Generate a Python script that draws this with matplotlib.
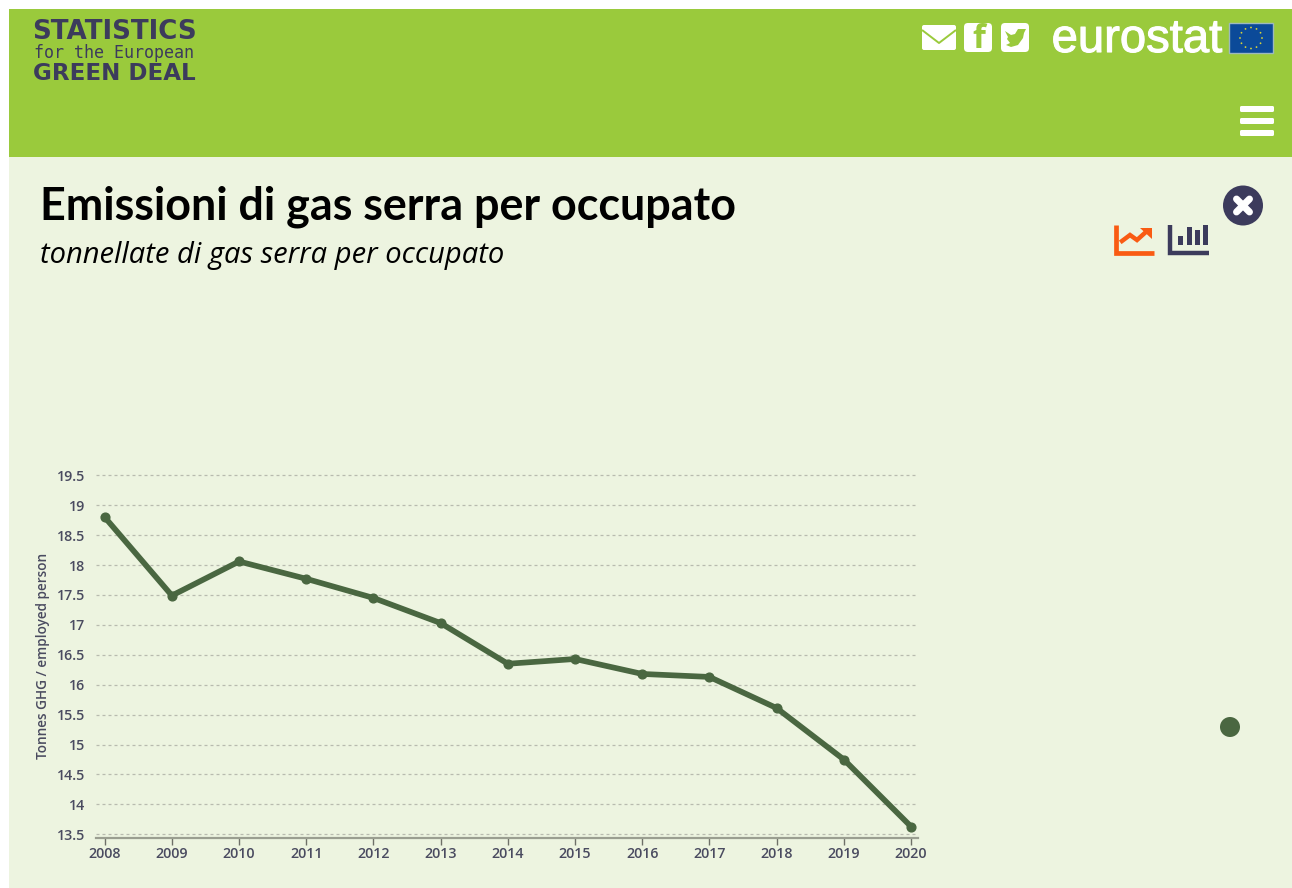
import numpy as np
import matplotlib
matplotlib.use("Agg")
import matplotlib.pyplot as plt
import matplotlib.patheffects as pe
from matplotlib.patches import Rectangle, FancyBboxPatch, Circle, Polygon

years = [2008, 2009, 2010, 2011, 2012, 2013, 2014, 2015, 2016, 2017, 2018, 2019, 2020]
values = [18.80, 17.49, 18.06, 17.77, 17.45, 17.03, 16.35, 16.43, 16.18, 16.13, 15.61, 14.75, 13.63]
y_ticks = [13.5, 14, 14.5, 15, 15.5, 16, 16.5, 17, 17.5, 18, 18.5, 19, 19.5]
y_labels = ["13.5", "14", "14.5", "15", "15.5", "16", "16.5", "17", "17.5", "18", "18.5", "19", "19.5"]
title = "Emissioni di gas serra per occupato"
subtitle = "tonnellate di gas serra per occupato"
y_title = "Tonnes GHG / employed person"

W, H = 1292, 888
GREEN, BG, NAVY, LINE, ORANGE = "#9ACA3C", "#EDF4E0", "#3C3B5C", "#4A6741", "#F95B13"
TICK = "#4A4B60"

fig = plt.figure(figsize=(W / 100, H / 100), dpi=100, facecolor="white")

# page chrome in pixel coordinates (origin top-left)
pg = fig.add_axes([0, 0, 1, 1], zorder=0)
pg.set_xlim(0, W)
pg.set_ylim(H, 0)
pg.axis("off")
pg.add_patch(Rectangle((9, 157), W - 9, H - 157, fc=BG, ec="none"))
pg.add_patch(Rectangle((9, 9), W - 9, 148, fc=GREEN, ec="none"))

# logo text
pg.text(114, 32, "STATISTICS", family="DejaVu Sans", weight="bold", size=18.8, color=NAVY,
        ha="center", va="center")
pg.text(114, 52.5, "for the European", family="DejaVu Sans Mono", size=12, color=NAVY,
        ha="center", va="center")
pg.text(114, 74, "GREEN DEAL", family="DejaVu Sans", weight="bold", size=16.6, color=NAVY,
        ha="center", va="center")

# mail icon
pg.add_patch(FancyBboxPatch((922, 25), 34, 25, boxstyle="round,pad=0,rounding_size=2", fc="white", ec="none"))
pg.plot([922, 939, 956], [30, 43, 30], color=GREEN, lw=1.4, solid_capstyle="butt")
# facebook icon
pg.add_patch(FancyBboxPatch((964, 23), 28, 29, boxstyle="round,pad=0,rounding_size=4", fc="white", ec="none"))
pg.text(979, 39, "f", family="Open Sans", weight="bold", size=24, color=GREEN, ha="center", va="center")
# twitter icon
pg.add_patch(FancyBboxPatch((1001, 23), 28, 29, boxstyle="round,pad=0,rounding_size=4", fc="white", ec="none"))
pg.add_patch(Polygon([(1005, 31), (1011, 35), (1015, 34), (1018, 29), (1022, 29), (1026, 29),
                      (1024, 33), (1023, 38), (1018, 45), (1011, 47), (1006, 45), (1010, 43),
                      (1007, 39), (1008, 37)], closed=True, fc=GREEN, ec="none"))

# eurostat wordmark and flag
pg.text(1137, 40, "eurostat", family="Liberation Sans", size=34, color="white",
        ha="center", va="center", path_effects=[pe.withStroke(linewidth=0.8, foreground="white")])
pg.add_patch(Rectangle((1229, 23), 44, 30, fc="#0B4A99", ec="#9DB9BE", lw=1))
for a in np.arange(0, 360, 30):
    pg.add_patch(Circle((1251 + 11 * np.cos(np.radians(a)), 38 + 10.5 * np.sin(np.radians(a))),
                        0.9, fc="#D8D23A", ec="none"))

# hamburger
for yb in (106, 118, 130):
    pg.add_patch(FancyBboxPatch((1240, yb), 34, 6, boxstyle="round,pad=0,rounding_size=1.5",
                                fc="white", ec="none"))

# titles
pg.text(40, 207, title, family="Lato", weight="bold", size=32.35, color="black", va="center")
pg.text(40, 255, subtitle, family="Open Sans", style="italic", size=21, color="black", va="center")

# close button
pg.add_patch(Circle((1243, 205.5), 20, fc=NAVY, ec="none"))
pg.plot([1236.5, 1249.5], [199, 212], color="white", lw=5, solid_capstyle="round")
pg.plot([1236.5, 1249.5], [212, 199], color="white", lw=5, solid_capstyle="round")

# line chart icon
pg.plot([1115.5, 1115.5, 1154], [225, 253.5, 253.5], color=ORANGE, lw=3.4, solid_capstyle="butt", solid_joinstyle="miter")
pg.plot([1122, 1130, 1137, 1147], [241, 235, 240, 231], color=ORANGE, lw=3.2, solid_joinstyle="miter")
pg.add_patch(Polygon([(1140, 228), (1152, 228), (1152, 239)], closed=True, fc=ORANGE, ec="none"))

# bar chart icon
pg.plot([1169.5, 1169.5, 1209], [225, 253.5, 253.5], color=NAVY, lw=3.2, solid_capstyle="butt", solid_joinstyle="miter")
for xb, top in zip((1181, 1190, 1198, 1206), (236, 227, 230, 225)):
    pg.add_patch(Rectangle((xb - 3, top), 4.5, 245 - top, fc=NAVY, ec="none"))

# legend dot
pg.add_patch(Circle((1230, 727), 10, fc=LINE, ec="none"))

# chart axes
L, R, T, B = 96, 918, 470, 837.7
ax = fig.add_axes([L / W, 1 - B / H, (R - L) / W, (B - T) / H], zorder=1)
ax.patch.set_alpha(0)
px_per_year = (911 - 104.7) / 12
px_per_unit = 59.83
ax.set_xlim(2008 - (104.7 - L) / px_per_year, 2020 + (R - 911) / px_per_year)
ax.set_ylim(13.5 - (B - 834.3) / px_per_unit, 19.5 + (475.3 - T) / px_per_unit)
ax.plot(years, values, color=LINE, lw=4.1, marker="o", ms=6.3, mec=LINE, mfc=LINE,
        solid_joinstyle="round", clip_on=False, zorder=3)
ax.set_yticks(y_ticks, y_labels)
ax.set_xticks(years, [str(y) for y in years])
ax.grid(axis="y", color="#B8BBAF", lw=0.9, ls=(0, (2.4, 2.4)))
ax.grid(axis="x", visible=False)
ax.set_axisbelow(True)
for s in ("top", "right", "left"):
    ax.spines[s].set_visible(False)
ax.spines["bottom"].set_color("#9A9E90")
ax.spines["bottom"].set_linewidth(1.6)
ax.tick_params(axis="y", length=0, pad=7.5, labelsize=10.3, labelcolor=TICK)
ax.tick_params(axis="x", length=5, width=1, color="#6E7068", pad=1.5, labelsize=10.3, labelcolor=TICK)
for lab in ax.get_xticklabels() + ax.get_yticklabels():
    lab.set_family("Open Sans")
    lab.set_weight("semibold")
for lab in ax.get_yticklabels():
    lab.set_va("center_baseline")
pg.text(43, 655.5, y_title, family="Open Sans", weight="semibold", size=9.8, color=TICK,
        rotation=90, ha="center", va="center")

fig.savefig("out.png", dpi=100, facecolor="white")
